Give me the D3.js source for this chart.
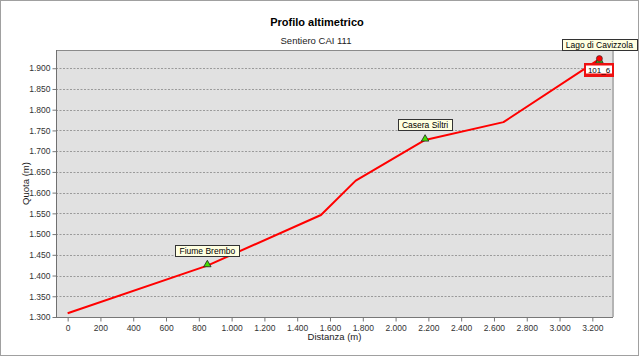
<!DOCTYPE html>
<html><head><meta charset="utf-8">
<script src="https://cdn.jsdelivr.net/npm/d3@7"></script>
<style>
html,body{margin:0;padding:0;background:#fff;}
text{font-family:"Liberation Sans",Arial,sans-serif;}
</style></head>
<body>
<svg id="chart" width="640" height="357"></svg>
<script>
// ---- data ----
const distances = [0, 852, 1545, 1757, 2180, 2658, 3243];
const elevations = [1309, 1424, 1546, 1629, 1727, 1770, 1922];
const waypointNames = ["Fiume Brembo", "Casera Siltri", "Lago di Cavizzola"];
const waypointDist = [852, 2180, 3243];
const waypointElev = [1424, 1727, 1922];
const endLabel = "101_6";
const xTicks = [0,200,400,600,800,1000,1200,1400,1600,1800,2000,2200,2400,2600,2800,3000,3200];
const yTicks = [1300,1350,1400,1450,1500,1550,1600,1650,1700,1750,1800,1850,1900];
const title = "Profilo altimetrico";
const subtitle = "Sentiero CAI 111";
const xTitle = "Distanza (m)";
const yTitle = "Quota (m)";

const svg = d3.select("#chart");
const W = 640, H = 357;
const L = 56, T = 50, R = 613, B = 317;

const loc = d3.formatLocale({decimal:",", thousands:".", grouping:[3], currency:["€",""]});
const fmt = loc.format(",d");

const x = d3.scaleLinear().domain([-71, 3326]).range([L, R]);
const y = d3.scaleLinear().domain([1300, 1944]).range([B, T]);

// outer frame
svg.append("rect").attr("x",0.5).attr("y",0.5).attr("width",W-2).attr("height",H-2)
  .attr("fill","#fff").attr("stroke","#a0a0a0");

// titles
svg.append("text").attr("x",317).attr("y",26).attr("text-anchor","middle")
  .attr("font-size",11).attr("font-weight","bold").attr("fill","#000").text(title);
svg.append("text").attr("x",316).attr("y",44).attr("text-anchor","middle")
  .attr("font-size",9.5).attr("fill","#222").text(subtitle);

// plot background
svg.append("rect").attr("x",L).attr("y",T).attr("width",R-L).attr("height",B-T).attr("fill","#e1e1e1");

// grid
svg.append("g").selectAll("line").data(yTicks.filter(d=>d>1300)).join("line")
  .attr("x1",L).attr("x2",R).attr("y1",d=>Math.round(y(d))+0.5).attr("y2",d=>Math.round(y(d))+0.5)
  .attr("stroke","#9a9a9a").attr("stroke-dasharray","2,1.5").attr("stroke-width",1);

// frame lines
svg.append("line").attr("x1",L).attr("x2",R).attr("y1",T+0.5).attr("y2",T+0.5).attr("stroke","#8a8a8a");
svg.append("line").attr("x1",L+0.5).attr("x2",L+0.5).attr("y1",T).attr("y2",B).attr("stroke","#707070");
svg.append("line").attr("x1",R).attr("x2",R).attr("y1",T).attr("y2",B).attr("stroke","#b4b4b4").attr("stroke-width",2);

// axes
const xAxis = d3.axisBottom(x).tickValues(xTicks).tickFormat(fmt).tickSize(4).tickPadding(3);
const gx = svg.append("g").attr("transform",`translate(0,${B+0.5})`).call(xAxis);
gx.select(".domain").attr("stroke","#777").attr("d",`M${L},0H${R}`);
gx.selectAll(".tick line").attr("stroke","#777");
gx.selectAll("text").attr("font-size",8.5).attr("fill","#333").attr("font-family","Liberation Sans, Arial, sans-serif");

const yAxis = d3.axisLeft(y).tickValues(yTicks).tickFormat(fmt).tickSize(4).tickPadding(2);
const gy = svg.append("g").attr("transform",`translate(${L+0.5},0)`).call(yAxis);
gy.select(".domain").remove();
gy.selectAll(".tick line").attr("stroke","#777");
gy.selectAll("text").attr("font-size",8.5).attr("fill","#333").attr("font-family","Liberation Sans, Arial, sans-serif");

// axis titles
svg.append("text").attr("x",(L+R)/2).attr("y",340).attr("text-anchor","middle")
  .attr("font-size",9.5).attr("fill","#222").text(xTitle);
svg.append("text").attr("transform",`translate(29,${(T+B)/2}) rotate(-90)`).attr("text-anchor","middle")
  .attr("font-size",9.5).attr("fill","#222").text(yTitle);

// profile line
const pts = distances.map((d,i)=>[d, elevations[i]]);
svg.append("path").datum(pts)
  .attr("d", d3.line().x(d=>x(d[0])).y(d=>y(d[1])))
  .attr("fill","none").attr("stroke","#ff0000").attr("stroke-width",2).attr("stroke-linejoin","round");

// waypoint markers
const tri = d3.symbol().type(d3.symbolTriangle).size(24);
waypointNames.forEach((name,i)=>{
  const px = x(waypointDist[i]), py = y(waypointElev[i]);
  const last = i === waypointNames.length-1;
  svg.append("path").attr("d",tri()).attr("transform",`translate(${px},${py+ (last?1.5:-1)})`)
    .attr("fill","#44dd00").attr("stroke","#222").attr("stroke-width",0.8);
  if (last) {
    svg.append("circle").attr("cx",px).attr("cy",py-0.5).attr("r",3)
      .attr("fill","#ff0000").attr("stroke","#333").attr("stroke-width",0.7);
  }
  // label box
  const t = svg.append("text").attr("font-size",8.5).attr("fill","#000").text(name);
  const tw = t.node().getComputedTextLength();
  const bw = tw + 8, bh = 11;
  const bx = px - bw/2, by = py - 9.5 - bh;
  svg.insert("rect", () => t.node()).attr("x",Math.round(bx)+0.5).attr("y",Math.round(by)+0.5)
    .attr("width",Math.round(bw)).attr("height",bh).attr("fill","#ffffe1").attr("stroke","#333").attr("stroke-width",1);
  t.attr("x",px).attr("y",Math.round(by)+9).attr("text-anchor","middle");
});

// end label box "101_6"
{
  const px = x(waypointDist[2]), py = y(waypointElev[2]);
  const bx = Math.round(px) - 15, by = Math.round(py) + 4;
  svg.append("rect").attr("x",bx).attr("y",by).attr("width",30).attr("height",14).attr("fill","#ee1111");
  svg.append("rect").attr("x",bx+2).attr("y",by+2.5).attr("width",26).attr("height",8).attr("fill","#fff");
  svg.append("text").attr("x",bx+15).attr("y",by+9.5).attr("text-anchor","middle")
    .attr("font-size",8).attr("fill","#000").text(endLabel);
}
</script>
</body></html>
